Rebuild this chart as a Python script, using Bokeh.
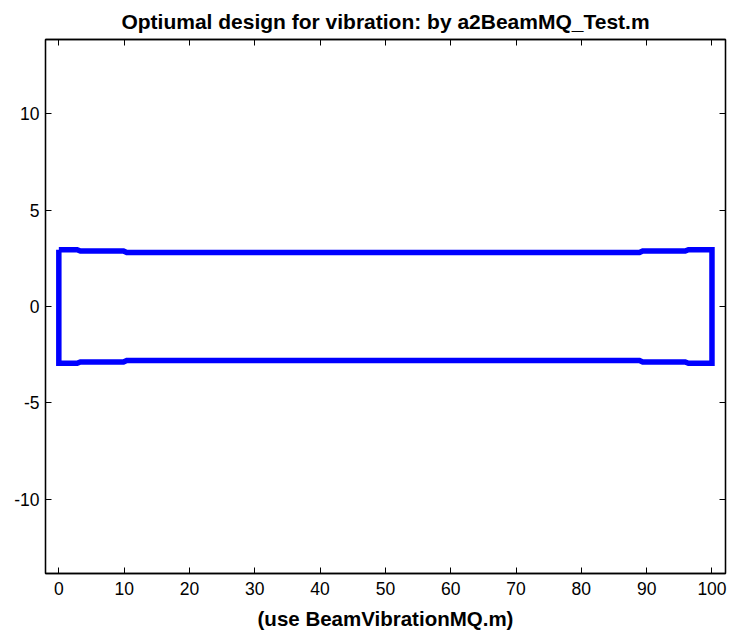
import numpy as np
from bokeh.plotting import figure
from bokeh.models import LinearAxis, FixedTicker, Range1d, Title
from bokeh.embed import file_html
from bokeh.resources import INLINE

# Beam profile (position along beam, half-height)
beam_x = [0, 2.8, 3.3, 9.9, 10.4, 88.9, 89.4, 95.9, 96.4, 100]
beam_h = [2.95, 2.95, 2.88, 2.88, 2.80, 2.80, 2.88, 2.88, 2.95, 2.95]

x_ticks = [0, 10, 20, 30, 40, 50, 60, 70, 80, 90, 100]
y_ticks = [-10, -5, 0, 5, 10]
y_tick_labels = ["-10", "-5", "0", "5", "10"]

title_text = "Optiumal design for vibration: by a2BeamMQ_Test.m"
xlabel_text = "(use BeamVibrationMQ.m)"

bx = np.array(beam_x, dtype=float)
bh = np.array(beam_h, dtype=float)
xs = np.concatenate([bx, bx[::-1], bx[:1]])
ys = np.concatenate([bh, -bh[::-1], bh[:1]])

FONT = "Liberation Sans"

p = figure(width=730, height=635, output_backend="svg", toolbar_location=None,
           x_range=Range1d(-2.04, 102.07), y_range=Range1d(-13.86, 13.86),
           min_border_left=45, min_border_right=5, min_border_top=38,
           min_border_bottom=62, x_axis_location=None, y_axis_location=None)
p.background_fill_color = "white"
p.border_fill_color = "white"
p.grid.visible = False
p.outline_line_color = "black"
p.outline_line_width = 1.3

def style_axis(ax, ticks, labels=True):
    ax.ticker = FixedTicker(ticks=ticks)
    ax.minor_tick_line_color = None
    ax.major_tick_in = 6
    ax.major_tick_out = 0
    ax.major_tick_line_color = "black"
    ax.axis_line_color = "black"
    ax.axis_line_width = 1.3
    if labels:
        ax.major_label_text_font = FONT
        ax.major_label_text_font_size = "17.5px"
        ax.major_label_text_color = "black"
    else:
        ax.major_label_text_font_size = "1px"
        ax.major_label_text_color = None
        ax.major_label_standoff = 0

xb = LinearAxis()
style_axis(xb, x_ticks)
xb.major_label_standoff = 8
xb.axis_label = xlabel_text
xb.axis_label_text_font = FONT
xb.axis_label_text_font_style = "bold"
xb.axis_label_text_font_size = "20.5px"
xb.axis_label_text_color = "black"
xb.axis_label_standoff = 9
p.add_layout(xb, "below")

yl = LinearAxis()
style_axis(yl, y_ticks)
yl.major_label_standoff = 6
yl.major_label_overrides = {t: s for t, s in zip(y_ticks, y_tick_labels)}
p.add_layout(yl, "left")

xt = LinearAxis()
style_axis(xt, x_ticks, labels=False)
p.add_layout(xt, "above")

yr = LinearAxis()
style_axis(yr, y_ticks, labels=False)
p.add_layout(yr, "right")

t = Title(text=title_text, align="center", text_font=FONT, text_font_style="bold",
          text_font_size="21px", text_color="black", standoff=14,
          text_line_height=0.8)
p.add_layout(t, "above")

p.line(xs, ys, line_color="#0000ff", line_width=5.5, line_join="miter")

open("out.html", "w").write(file_html(p, INLINE))
